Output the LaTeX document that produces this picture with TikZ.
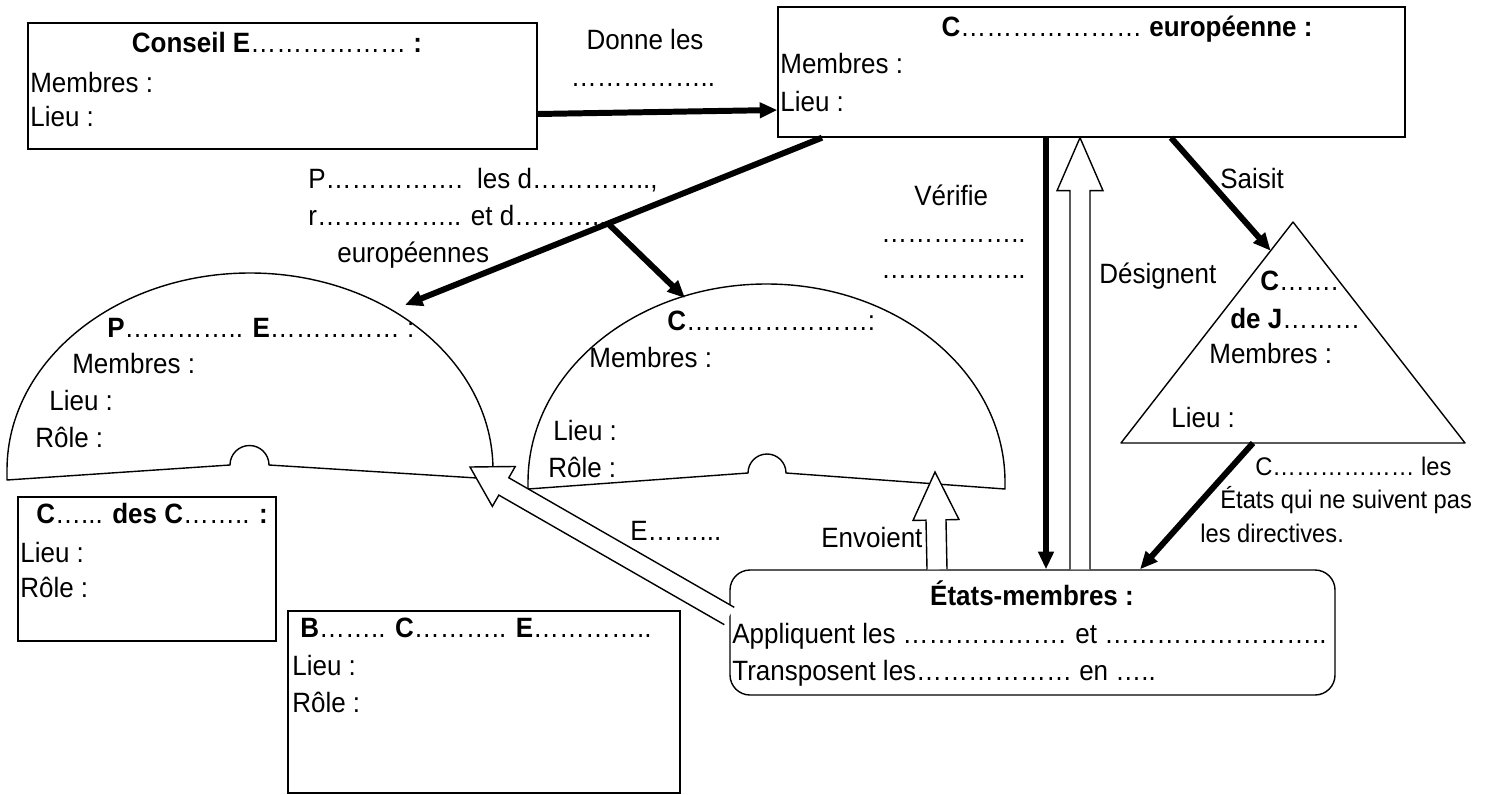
\documentclass[tikz,border=0pt]{standalone}
\usepackage{fontspec}
\setmainfont{Liberation Sans}[FakeStretch=0.93]
\usetikzlibrary{arrows.meta,calc,fit}

\tikzset{
	box/.style={draw,line width=0.8pt,inner sep=0pt},
	dome/.style={draw,line width=0.8pt,line join=round},
	txt/.style={anchor=base west,inner sep=0pt},
	txtc/.style={anchor=base,inner sep=0pt},
	petit/.style={font=\fontsize{14.5}{17}\selectfont},
	fleche/.style={line width=3.4pt,-{Triangle[length=10pt,width=8.5pt]}},
	creuse/.style={draw,fill=white,line width=0.8pt,line join=miter},
}

% hollow block arrow: [head length]{start}{tip}
\newcommand{\blocfleche}[3][1cm]{%
	\coordinate (bf-h) at ($(#3)!#1!(#2)$);
	\draw[creuse] ($(#2)!0.2cm!90:(#3)$) -- ($(bf-h)!0.2cm!90:(#3)$)
		-- ($(bf-h)!0.46cm!90:(#3)$) -- (#3) -- ($(bf-h)!0.46cm!-90:(#3)$)
		-- ($(bf-h)!0.2cm!-90:(#3)$) -- ($(#2)!0.2cm!-90:(#3)$);
}

\begin{document}
\begin{tikzpicture}[x=0.02cm,y=-0.02cm,font=\fontsize{15.9}{19}\selectfont]
		\useasboundingbox (0,0) rectangle (1493,794);

		% Conseil europeen
		\node[box,fit={(28,23) (537,149)}] (conseil) {};
		\node[txtc] (conseil-t) at (277,53) {\textbf{Conseil E}……………… \textbf{:}};
		\node[txt] (conseil-m) at (30,92) {Membres :};
		\node[txt] (conseil-l) at (30,127) {Lieu :};
		\node[txtc] (donne) at (645,50) {Donne les};
		\node[txtc] (donne-p) at (643,87) {……………..};

		% Commission europeenne
		\node[box,fit={(778,7) (1405,137)}] (comm) {};
		\node[txtc] (comm-t) at (1127,37) {\textbf{C}………………… \textbf{européenne :}};
		\node[txt] (comm-m) at (780,73) {Membres :};
		\node[txt] (comm-l) at (780,112) {Lieu :};

		% Parlement (dome)
		\draw[dome] (7,480) -- (230,465) arc[start angle=180,end angle=360,radius=19.5]
			-- (493,479) -- (493,470) arc[start angle=0,end angle=-180,x radius=243,y radius=197] -- cycle;
		\coordinate (parl-top) at (405,305);
		\coordinate (parl-coin) at (470,467);
		\node[txt] (parl-t) at (107,337) {\textbf{P}………….. \textbf{E}…………… :};
		\node[txt] (parl-m) at (72,373) {Membres :};
		\node[txt] (parl-l) at (49,410) {Lieu :};
		\node[txt] (parl-r) at (35,447) {Rôle :};

		% Conseil (dome)
		\draw[dome] (528,489) -- (748,473) arc[start angle=180,end angle=360,radius=19]
			-- (1005,489) -- (1005,482) arc[start angle=0,end angle=-180,x radius=238.5,y radius=198] -- cycle;
		\coordinate (cons-top) at (685,298);
		\coordinate (cons-bas) at (935,472);
		\node[txt] (cons-t) at (667,330) {\textbf{C}…………………:};
		\node[txt] (cons-m) at (589,367) {Membres :};
		\node[txt] (cons-l) at (553,440) {Lieu :};
		\node[txt] (cons-r) at (548,477) {Rôle :};

		% Cour de justice (triangle)
		\coordinate (tri-top) at (1293,222);
		\coordinate (tri-left) at (1121,443);
		\coordinate (tri-right) at (1465,443);
		\draw[dome] (tri-top) -- (tri-left) -- (tri-right) -- cycle;
		\node[txt] (cj-t) at (1260,290) {\textbf{C}…….};
		\node[txt] (cj-t2) at (1230,328) {\textbf{de J}………};
		\node[txt] (cj-m) at (1209,363) {Membres :};
		\node[txt] (cj-l) at (1171,427) {Lieu :};

		% Cour des comptes
		\node[box,fit={(18,497) (276,641)}] (cour) {};
		\node[txt] (cour-t) at (36,523) {\textbf{C}…... \textbf{des C}…….. \textbf{:}};
		\node[txt] (cour-l) at (20,562) {Lieu :};
		\node[txt] (cour-r) at (20,597) {Rôle :};

		% Banque centrale
		\node[box,fit={(288,611) (680,793)}] (bce) {};
		\node[txt] (bce-t) at (300,637) {\textbf{B}…….. \textbf{C}……….. \textbf{E}…………..};
		\node[txt] (bce-l) at (292,675) {Lieu :};
		\node[txt] (bce-r) at (292,712) {Rôle :};

		% Etats-membres
		\node[box,rounded corners=0.4cm,fit={(730,570) (1335,695)}] (etats) {};
		\node[txtc] (etats-t) at (1032,605) {\textbf{États-membres :}};
		\node[txt] (etats-a) at (732,643) {Appliquent les ………………. et ……………………..};
		\node[txt] (etats-b) at (732,680) {Transposent les……………… en …..};

		% thick arrows
		\coordinate (comm-so) at (822,0 |- comm.south);
		\coordinate (branche) at ($(comm-so)!0.513!(parl-top)$);
		\draw[fleche] (conseil.east |- 0,114) -- (comm.west |- 0,110);
		\draw[fleche] (comm-so) -- (parl-top);
		\draw[fleche] (branche) -- (cons-top);
		\draw[fleche] (1046,0 |- comm.south) -- (1046,0 |- etats.north);
		\draw[fleche] (1171,0 |- comm.south) -- ($(tri-top)!0.13!(tri-left)$);
		\draw[fleche] (1253,0 |- tri-left) -- (1140,0 |- etats.north);

		% hollow arrows
		\coordinate (des-a) at (1080,0 |- etats.north);
		\coordinate (des-b) at (1080,0 |- comm.south);
		\blocfleche[1.06cm]{des-a}{des-b}
		\coordinate (env-a) at (937,0 |- etats.north);
		\blocfleche[0.96cm]{env-a}{cons-bas}
		\coordinate (e-a) at (etats.west |- 0,616);
		\blocfleche[0.78cm]{e-a}{parl-coin}

		% Labels
		\node[txt] (lbl-p) at (308,188) {P…………….\ \ les d…………..,};
		\node[txt] (lbl-r) at (308,225) {r…………….. et d………..};
		\node[txt] (lbl-e) at (337,262) {européennes};
		\node[txt] (verif) at (914,205) {Vérifie};
		\node[txt] (verif-1) at (881,242) {……………..};
		\node[txt] (verif-2) at (881,278) {……………..};
		\node[txt] (saisit) at (1220,188) {Saisit};
		\node[txt] (design) at (1099,283) {Désignent};
		\node[txt,petit] (cj-a) at (1255,475) {C……………… les};
		\node[txt,petit] (cj-b) at (1220,508) {États qui ne suivent pas};
		\node[txt,petit] (cj-c) at (1200,542) {les directives.};
		\node[txt] (elit) at (630,540) {E……...};
		\node[txt] (envoi) at (821,547) {Envoient};
	\end{tikzpicture}
\end{document}
